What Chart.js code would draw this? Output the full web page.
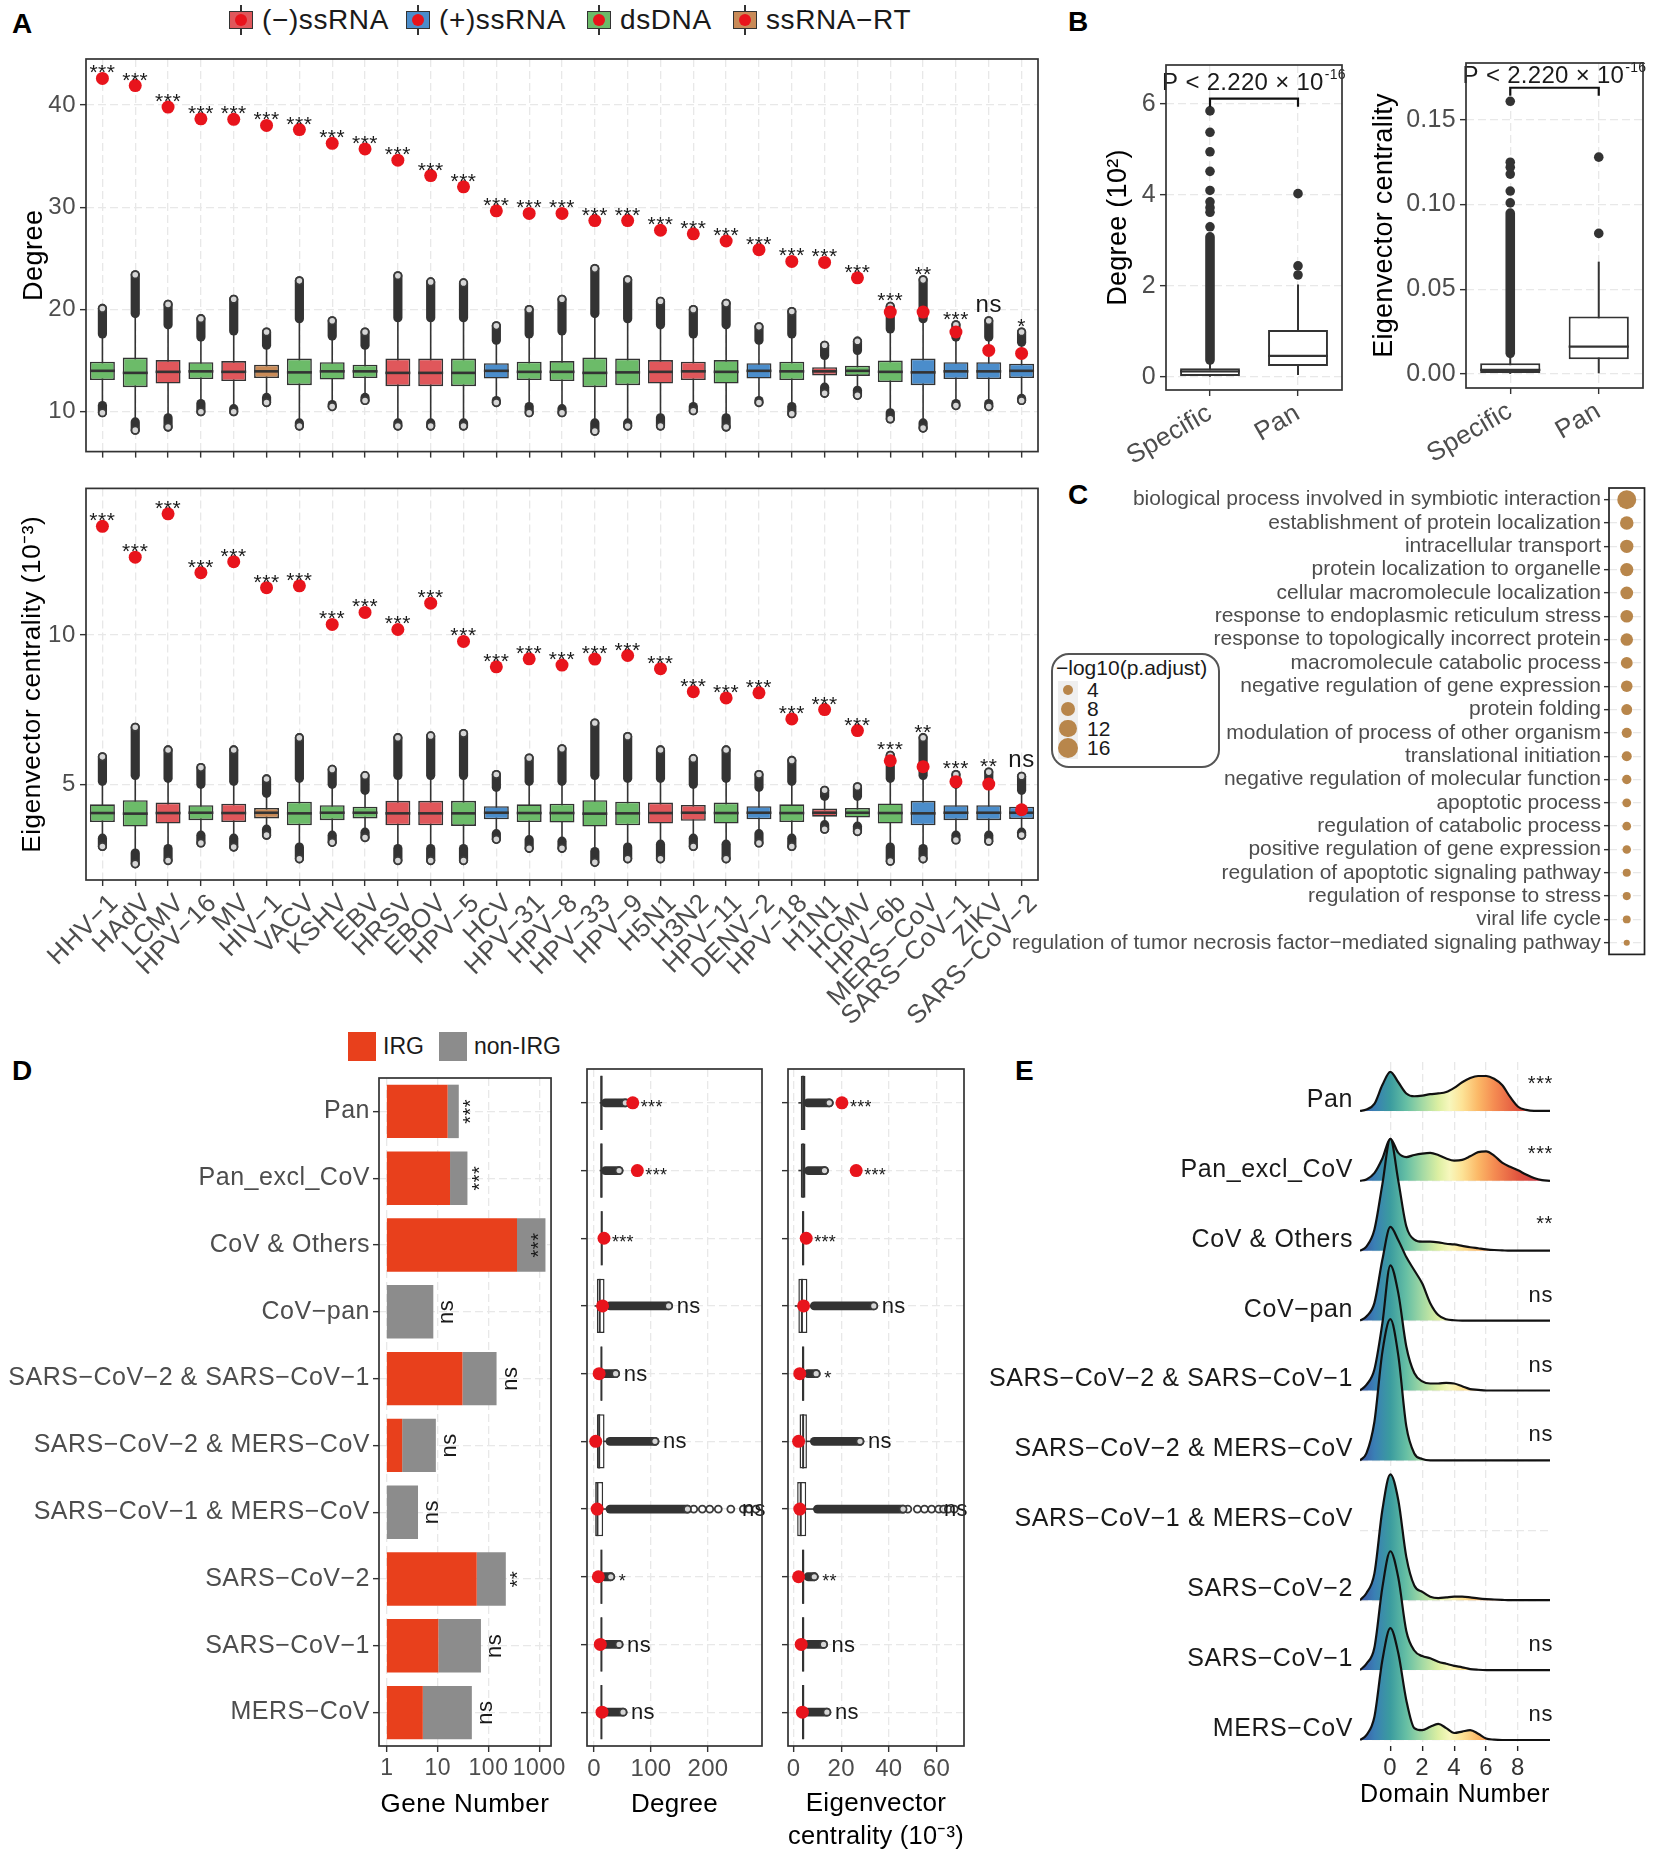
<!doctype html>
<html lang="en">
<head>
<meta charset="utf-8">
<title>Pan-viral interacting genes</title>
<style>
  * { margin: 0; padding: 0; box-sizing: border-box; }
  body { width: 1654px; height: 1853px; position: relative; background: #fff; overflow: hidden;
         font-family: 'Liberation Sans', Arial, sans-serif; color: #1a1a1a; }
  canvas { position: absolute; }
  .tag { position: absolute; font-weight: bold; font-size: 28px; line-height: 1; color: #000; }
  .lg { position: absolute; display: flex; align-items: center; height: 32px; font-size: 28px; letter-spacing: 0.6px; white-space: nowrap; }
  .key { position: relative; width: 26px; height: 30px; margin-right: 8px; }
  .key i { position: absolute; display: block; }
  .key .wh { left: 12px; top: 0; width: 2px; height: 30px; background: #333; }
  .key .bx { left: 1px; top: 6px; width: 24px; height: 18px; border: 1.6px solid #333; }
  .key .dot { left: 7px; top: 9px; width: 12px; height: 12px; border-radius: 50%; background: #e8141c; }
  .sq { width: 28px; height: 29px; margin-right: 7px; }
  #cLegend { position: absolute; left: 1051px; top: 653px; width: 169px; height: 115px;
             border: 2px solid #555; border-radius: 18px; font-size: 21px; }
  #cLegend div { position: absolute; white-space: nowrap; }
</style>
</head>
<body>
<div class="tag" style="left:12px;top:10px">A</div>
<div class="tag" style="left:1068px;top:8px">B</div>
<div class="tag" style="left:1068px;top:481px">C</div>
<div class="tag" style="left:12px;top:1057px">D</div>
<div class="tag" style="left:1015px;top:1057px">E</div>

<div id="legendA"></div>
<div id="legendD"></div>
<div id="cLegend"></div>

<canvas id="a1" width="1050" height="470" style="left:0;top:0"></canvas>
<canvas id="a2" width="1050" height="560" style="left:0;top:470px"></canvas>
<canvas id="b1" width="270" height="440" style="left:1085px;top:30px"></canvas>
<canvas id="b2" width="294" height="440" style="left:1360px;top:30px"></canvas>
<canvas id="c" width="664" height="500" style="left:990px;top:470px"></canvas>
<canvas id="d1" width="570" height="793" style="left:0;top:1060px"></canvas>
<canvas id="d2" width="210" height="793" style="left:565px;top:1060px"></canvas>
<canvas id="d3" width="210" height="793" style="left:775px;top:1060px"></canvas>
<canvas id="e" width="694" height="813" style="left:960px;top:1040px"></canvas>

<script src="https://cdn.jsdelivr.net/npm/chart.js@4/dist/chart.umd.min.js"></script>
<script>
// ---------------- data: panel A ----------------
const viruses = ['HHV-1','HAdV','LCMV','HPV-16','MV','HIV-1','VACV','KSHV','EBV','HRSV','EBOV','HPV-5','HCV','HPV-31','HPV-8',
  'HPV-33','HPV-9','H5N1','H3N2','HPV-11','DENV-2','HPV-18','H1N1','HCMV','HPV-6b','MERS-CoV','SARS-CoV-1','ZIKV','SARS-CoV-2'];
const virusType = ['ds','ds','neg','ds','neg','rt','ds','ds','ds','neg','neg','ds','pos','ds','ds',
  'ds','ds','neg','neg','ds','pos','ds','neg','ds','ds','pos','pos','pos','pos'];
const typeNames = {neg: '(−)ssRNA', pos: '(+)ssRNA', ds: 'dsDNA', rt: 'ssRNA−RT'};

// degree of IRGs (red dots) and of all genes (boxes)
const degIRG = [42.6,41.9,39.8,38.65,38.6,38.0,37.6,36.25,35.7,34.6,33.1,32.0,29.65,29.4,29.4,28.7,28.7,27.75,27.4,26.7,25.85,24.7,24.6,23.1,19.75,19.75,17.8,16.0,15.7];
const degSig = ['***','***','***','***','***','***','***','***','***','***','***','***','***','***','***','***','***','***','***','***','***','***','***','***','***','**','***','ns','*'];
const degQ1  = [13.1,12.4,12.75,13.2,13.0,13.3,12.6,13.15,13.3,12.5,12.5,12.5,13.25,13.1,13.0,12.4,12.6,12.75,13.1,12.75,13.25,13.1,13.55,13.5,12.9,12.6,13.2,13.2,13.3];
const degMed = [14.0,13.8,13.9,13.95,13.9,13.95,13.85,13.95,13.95,13.8,13.8,13.8,14.0,13.9,13.9,13.8,13.85,13.9,13.95,13.9,14.0,13.95,13.95,14.0,13.9,13.85,13.95,13.95,14.0];
const degQ3  = [14.9,15.3,15.05,14.85,14.95,14.6,15.2,14.85,14.6,15.2,15.2,15.2,14.75,14.9,14.95,15.3,15.2,15.05,14.9,15.05,14.75,14.9,14.35,14.5,15.0,15.2,14.85,14.85,14.7];
const degLo  = [10.6,9.0,9.4,10.8,10.3,11.4,8.9,10.7,11.4,8.9,8.9,8.9,11.1,10.5,10.3,8.9,8.9,9.4,10.5,9.4,11.1,10.5,12.4,12.1,9.9,8.9,10.8,10.8,11.3];
const degHi  = [17.6,19.6,18.5,17.3,17.9,16.5,19.1,17.4,16.5,19.2,19.2,19.2,17.0,17.6,17.9,19.6,19.1,18.5,17.6,18.5,17.0,17.6,15.5,16.0,18.1,19.1,17.3,17.3,16.8];
const degMax = [20.1,23.4,20.5,19.1,21.0,17.8,22.8,18.9,17.8,23.3,22.7,22.6,18.4,20.0,21.0,24.0,22.9,20.8,20.0,20.6,18.3,19.8,16.5,16.9,20.3,22.9,18.5,18.9,17.8];
const degMin = [9.9,8.2,8.5,10.0,10.0,10.9,8.6,10.5,11.1,8.6,8.6,8.6,10.9,9.9,9.9,8.1,8.6,8.6,10.1,8.5,10.9,9.8,11.8,11.6,9.3,8.4,10.6,10.5,11.1];

// eigenvector centrality (10^-3)
const eigIRG = [13.63,12.6,14.05,12.08,12.45,11.58,11.64,10.35,10.75,10.18,11.06,9.78,8.93,9.2,8.99,9.19,9.31,8.87,8.1,7.89,8.06,7.19,7.5,6.8,5.79,5.59,5.09,5.01,4.15];
const eigSig = ['***','***','***','***','***','***','***','***','***','***','***','***','***','***','***','***','***','***','***','***','***','***','***','***','***','**','***','**','ns'];
const eigQ1  = [3.74,3.59,3.69,3.80,3.74,3.86,3.63,3.80,3.86,3.63,3.63,3.61,3.83,3.74,3.72,3.59,3.63,3.69,3.78,3.69,3.83,3.74,3.92,3.89,3.69,3.63,3.80,3.80,3.84];
const eigMed = [4.04,4.02,4.04,4.05,4.04,4.05,4.03,4.05,4.05,4.03,4.03,4.03,4.05,4.04,4.04,4.02,4.03,4.04,4.05,4.04,4.05,4.04,4.05,4.05,4.04,4.03,4.05,4.05,4.05];
const eigQ3  = [4.33,4.47,4.39,4.30,4.35,4.21,4.42,4.30,4.25,4.45,4.45,4.45,4.27,4.33,4.35,4.47,4.42,4.39,4.31,4.39,4.27,4.33,4.19,4.21,4.36,4.45,4.30,4.30,4.25];
const eigLo  = [3.2,2.7,2.85,3.3,3.2,3.5,2.9,3.3,3.4,2.85,2.85,2.85,3.35,3.15,3.1,2.75,2.9,3.0,3.2,3.0,3.35,3.2,3.65,3.6,2.9,2.85,3.3,3.3,3.4];
const eigHi  = [5.1,5.3,5.2,5.0,5.1,4.7,5.2,5.0,4.8,5.3,5.3,5.3,4.9,5.1,5.1,5.3,5.2,5.2,5.0,5.2,4.9,5.1,4.6,4.6,5.2,5.3,5.0,5.0,4.8];
const eigMax = [5.92,6.91,6.15,5.56,6.15,5.18,6.56,5.5,5.29,6.56,6.62,6.7,5.33,5.88,6.19,7.05,6.6,6.15,5.86,6.15,5.33,5.8,4.8,4.92,5.97,6.56,5.33,5.41,5.27];
const eigMin = [2.92,2.34,2.45,3.04,2.9,3.3,2.51,3.06,3.22,2.45,2.45,2.45,3.16,2.86,2.86,2.39,2.51,2.51,2.92,2.51,3.04,2.92,3.5,3.42,2.43,2.51,3.14,3.1,3.3];

// ---------------- data: panel B ----------------
const bGroups = ['Specific','Pan'];
const bDegQ1 = [0.02,0.24], bDegMed = [0.12,0.46], bDegQ3 = [0.19,1.03], bDegLo = [0,0.04], bDegHi = [0.37,2.03];
const bDegDense = [3.08,null];
const bDegOut = [[3.3,3.62,3.72,3.85,4.1,4.52,4.95,5.38,5.85],[2.24,2.44,4.03]];
const bEigQ1 = [0.0005,0.0087], bEigMed = [0.0024,0.0161], bEigQ3 = [0.0063,0.0339], bEigLo = [0,0.0004], bEigHi = [0.0122,0.0663];
const bEigDense = [0.095,null];
const bEigOut = [[0.101,0.108,0.118,0.122,0.125,0.161],[0.083,0.128]];

// ---------------- data: panel C ----------------
const goTerms = ['biological process involved in symbiotic interaction','establishment of protein localization',
  'intracellular transport','protein localization to organelle','cellular macromolecule localization',
  'response to endoplasmic reticulum stress','response to topologically incorrect protein','macromolecule catabolic process',
  'negative regulation of gene expression','protein folding','modulation of process of other organism',
  'translational initiation','negative regulation of molecular function','apoptotic process',
  'regulation of catabolic process','positive regulation of gene expression','regulation of apoptotic signaling pathway',
  'regulation of response to stress','viral life cycle','regulation of tumor necrosis factor-mediated signaling pathway'];
const goScore = [14.4,7.3,7.1,7.0,6.5,6.4,6.3,5.6,5.4,4.8,4.1,4.0,3.5,3.1,3.0,2.9,2.6,2.6,2.5,1.5];
const goLegend = [4,8,12,16];

// ---------------- data: panel D ----------------
const dGroups = ['Pan','Pan_excl_CoV','CoV & Others','CoV-pan','SARS-CoV-2 & SARS-CoV-1','SARS-CoV-2 & MERS-CoV',
  'SARS-CoV-1 & MERS-CoV','SARS-CoV-2','SARS-CoV-1','MERS-CoV'];
const geneIRG = [15.7,17.5,364,null,30.7,2.0,null,58.6,10.3,5.1];
const geneAll = [26,38.5,1320,8.2,144,9.2,4.1,219,71,47];
const geneSig = ['***','***','***','ns','ns','ns','ns','**','ns','ns'];

const dDegIRG = [68,76,17.5,15,9,3,5.5,7.6,11,14];
const dDegQ1  = [11,11,12.5,5,12,5,2,12,12,12];
const dDegMed = [13,13,13.5,10,13,9,6,13,13,13];
const dDegQ3  = [15,15,15,18.5,14,18.5,16,14,14,14];
const dDegLo  = [10,10,12,1,11,1,1,11,11,11];
const dDegHi  = [20,20,16,28,18,28,28,18,18,18];
const dDegMax = [55,44,16,131,38,107,164,29.5,44,51];
const dDegOut = [[],[],[],[],[],[],[175,190,203,218,240,262,272,284],[],[],[]];
const dDegSig = ['***','***','***','ns','ns','ns','ns','*','ns','ns'];

const dEigIRG = [20.3,26.3,5.3,4.2,2.6,2.1,2.6,2.1,3.2,3.7];
const dEigQ1  = [3,3,3.5,2,3.5,2.5,1.5,3.5,3.5,3.5];
const dEigMed = [4,4,4,3.5,4,4,3,4,4,4];
const dEigQ3  = [5,5,4.5,5.8,4.5,5.6,5.3,4.5,4.5,4.5];
const dEigLo  = [2,2,3,0.5,3,0.5,0.3,3,3,3];
const dEigHi  = [6,6.3,5,8.7,6,8.7,10,6,6,6];
const dEigMax = [15,13,5,33.7,9.5,27.9,46,8.7,12.6,14];
const dEigOut = [[],[],[],[],[],[],[48,52,55,58,61,63,65,67.5],[],[],[]];
const dEigSig = ['***','***','***','ns','*','ns','ns','**','ns','ns'];

// ---------------- data: panel E (ridge heights, in row units) ----------------
const eGroups = dGroups;
const domainX = [-1.9,-1.5,-1,-0.5,0,0.5,1,1.5,2,2.5,3,3.5,4,4.5,5,5.5,6,6.5,7,7.5,8,8.5,9,9.5,10];
const ridgePan      = [0,0.02,0.1,0.37,0.56,0.41,0.25,0.21,0.22,0.24,0.25,0.27,0.33,0.41,0.47,0.5,0.5,0.46,0.37,0.2,0.06,0.015,0,0,0];
const ridgePanExcl  = [0,0.02,0.11,0.32,0.6,0.4,0.34,0.37,0.39,0.4,0.37,0.32,0.29,0.3,0.35,0.41,0.42,0.36,0.26,0.2,0.15,0.09,0.04,0.01,0];
const ridgeCoVOther = [0,0.06,0.3,0.95,1.6,1.0,0.35,0.16,0.13,0.13,0.12,0.1,0.09,0.07,0.05,0.035,0.02,0.01,0.005,0,0,0,0,0,0];
const ridgeCoVpan   = [0,0.06,0.25,0.87,1.34,1.15,0.91,0.72,0.53,0.25,0.08,0.02,0.005,0,0,0,0,0,0,0,0,0,0,0,0];
const ridgeSC2SC1   = [0,0.08,0.3,0.96,1.79,1.39,0.63,0.25,0.13,0.1,0.1,0.11,0.1,0.06,0.02,0.01,0,0,0,0,0,0,0,0,0];
const ridgeSC2MERS  = [0,0.1,0.55,1.55,2.02,1.5,0.49,0.1,0.02,0,0,0,0,0,0,0,0,0,0,0,0,0,0,0,0];
const ridgeSC1MERS  = null;
const ridgeSC2      = [0,0.1,0.38,1.29,1.8,1.43,0.62,0.21,0.12,0.05,0.03,0.04,0.05,0.05,0.04,0.025,0.015,0.01,0.005,0,0,0,0,0,0];
const ridgeSC1      = [0,0.09,0.32,1.18,1.7,1.32,0.56,0.28,0.2,0.17,0.12,0.09,0.06,0.04,0.015,0.005,0,0,0,0,0,0,0,0,0];
const ridgeMERS     = [0,0.07,0.33,1.14,1.6,1.24,0.57,0.17,0.14,0.19,0.23,0.17,0.1,0.12,0.14,0.09,0.02,0.005,0,0,0,0,0,0,0];
const ridges = [ridgePan,ridgePanExcl,ridgeCoVOther,ridgeCoVpan,ridgeSC2SC1,ridgeSC2MERS,ridgeSC1MERS,ridgeSC2,ridgeSC1,ridgeMERS];
const eSig = ['***','***','**','ns','ns','ns','','','ns','ns'];

// ---------------- styling ----------------
const FONT = "'Liberation Sans', Arial, sans-serif";
const RED = '#e8141c', INK = '#333333', GRID = '#e8e8e8', TICK = '#4d4d4d';
const typeColor = {neg: '#e0575b', pos: '#4b8dcb', ds: '#6cbb69', rt: '#c98b58'};
const dash = s => s.replace(/-/g, '\u2212');

Chart.defaults.font.family = FONT;
Chart.defaults.color = TICK;
Chart.defaults.animation = false;
Chart.defaults.responsive = false;
Chart.defaults.events = [];
Chart.defaults.plugins.legend.display = false;
Chart.defaults.plugins.tooltip.enabled = false;

const fixW = w => s => { s.width = w; };
const fixH = h => s => { s.height = h; };
const setTicks = vals => s => { s.ticks = vals.map(v => ({value: v})); };
const grid = o => Object.assign({color: GRID, lineWidth: 1.3, tickColor: INK, tickLength: 6, tickWidth: 1.4, offset: false}, o || {});
const border = {display: false, dash: [8, 4]};
const title = (text, size, pad) => ({display: true, text, color: '#000', font: {size, lineHeight: 1.25}, padding: pad});
// slightly wider lettering, closer to the original typeface
const spacing = px => ({id: 'spacing', beforeUpdate(chart) { chart.ctx.letterSpacing = px + 'px'; }});

// ---------------- box plot helpers (use the chart scales) ----------------
function capsule(ctx, h, c, p1, p2, r) {
  ctx.beginPath();
  if (Math.abs(p2 - p1) < 0.5) {
    h ? ctx.arc(p1, c, r, 0, Math.PI * 2) : ctx.arc(c, p1, r, 0, Math.PI * 2);
    ctx.fill(); return;
  }
  ctx.lineWidth = 2 * r; ctx.lineCap = 'round';
  if (h) { ctx.moveTo(p1, c); ctx.lineTo(p2, c); } else { ctx.moveTo(c, p1); ctx.lineTo(c, p2); }
  ctx.stroke();
}
function point(ctx, h, c, p, r, ring) {
  ctx.beginPath();
  h ? ctx.arc(p, c, r - (ring ? 0.9 : 0), 0, Math.PI * 2) : ctx.arc(c, p, r - (ring ? 0.9 : 0), 0, Math.PI * 2);
  if (ring) {
    ctx.fillStyle = 'rgba(255,255,255,0.8)'; ctx.fill();
    ctx.lineWidth = 1.8; ctx.strokeStyle = '#3a3a3a'; ctx.stroke();
  } else { ctx.fillStyle = INK; ctx.fill(); }
}
function boxExtras(o) {
  return {
    id: 'boxExtras',
    beforeDatasetsDraw(chart) {
      const ctx = chart.ctx, h = !!o.horizontal;
      const ix = h ? chart.scales.y : chart.scales.x, vs = h ? chart.scales.x : chart.scales.y;
      const P = v => vs.getPixelForValue(v);
      ctx.save();
      o.lo.forEach((lo, i) => {
        const c = ix.getPixelForValue(i);
        ctx.strokeStyle = INK; ctx.lineWidth = o.wLine || 1.6; ctx.lineCap = 'butt';
        ctx.beginPath();
        if (h) { ctx.moveTo(P(lo), c); ctx.lineTo(P(o.hi[i]), c); } else { ctx.moveTo(c, P(lo)); ctx.lineTo(c, P(o.hi[i])); }
        ctx.stroke();
        ctx.strokeStyle = INK; ctx.fillStyle = INK;
        const top = o.max && o.max[i];
        if (top != null && top > o.hi[i]) capsule(ctx, h, c, P(o.hi[i]), P(top), o.r);
        const bot = o.min && o.min[i];
        if (bot != null && bot < lo) capsule(ctx, h, c, P(lo), P(bot), o.r);
        ((o.out && o.out[i]) || []).forEach(v => point(ctx, h, c, P(v), o.r, o.ring));
        if (o.ring) {
          if (top != null && top > o.hi[i]) point(ctx, h, c, P(top), o.r, true);
          if (bot != null && bot < lo) point(ctx, h, c, P(bot), o.r, true);
        }
      });
      ctx.restore();
    },
    afterDatasetDraw(chart, args) {
      if (args.meta.type !== 'bar') return;
      const ctx = chart.ctx, h = !!o.horizontal;
      const vs = h ? chart.scales.x : chart.scales.y;
      ctx.save(); ctx.strokeStyle = INK; ctx.lineWidth = o.medWidth || 2.6;
      args.meta.data.forEach((el, i) => {
        const p = vs.getPixelForValue(o.med[i]);
        ctx.beginPath();
        if (h) { ctx.moveTo(p, el.y - el.height / 2); ctx.lineTo(p, el.y + el.height / 2); }
        else { ctx.moveTo(el.x - el.width / 2, p); ctx.lineTo(el.x + el.width / 2, p); }
        ctx.stroke();
      });
      ctx.restore();
    },
    afterDatasetsDraw(chart) { if (o.labels) { chart.ctx.save(); o.labels(chart, chart.ctx); chart.ctx.restore(); } },
    afterDraw(chart) { drawFrame(chart); }
  };
}
function drawFrame(chart, color) {
  const {ctx, chartArea: a} = chart;
  ctx.save(); ctx.strokeStyle = color || INK; ctx.lineWidth = 1.7;
  ctx.strokeRect(a.left, a.top, a.right - a.left, a.bottom - a.top);
  ctx.restore();
}
const framePlugin = {id: 'frame', afterDraw(chart) { drawFrame(chart, '#222'); }};

// significance labels above the dots of panel A
function sigAbove(sig, dots, max, starSize, nsSize) {
  return (chart, ctx) => {
    const xs = chart.scales.x, ys = chart.scales.y;
    ctx.fillStyle = '#1a1a1a'; ctx.textAlign = 'center'; ctx.textBaseline = 'alphabetic';
    sig.forEach((s, i) => {
      const py = ys.getPixelForValue(Math.max(dots[i], max[i]));
      const star = s !== 'ns';
      ctx.font = (star ? starSize : nsSize) + 'px ' + FONT;
      ctx.fillText(s, xs.getPixelForValue(i), star ? py + 1 : py - 9);
    });
  };
}

// ---------------- legends (HTML) ----------------
const legendA = document.getElementById('legendA');
[['neg', 228], ['pos', 405], ['ds', 586], ['rt', 732]].forEach(([t, left]) => {
  const d = document.createElement('div');
  d.className = 'lg'; d.style.left = left + 'px'; d.style.top = '4px';
  d.innerHTML = '<span class="key"><i class="wh"></i><i class="bx" style="background:' + typeColor[t] +
    '"></i><i class="dot"></i></span><span>' + typeNames[t] + '</span>';
  legendA.appendChild(d);
});
const legendD = document.getElementById('legendD');
[['IRG', '#e8401c', 348], ['non-IRG', '#8c8c8c', 439]].forEach(([name, col, left]) => {
  const d = document.createElement('div');
  d.className = 'lg'; d.style.left = left + 'px'; d.style.top = '1030px';
  d.style.fontSize = '23px'; d.style.letterSpacing = '0';
  d.innerHTML = '<span class="sq" style="background:' + col + '"></span><span>' + name + '</span>';
  legendD.appendChild(d);
});
const cLeg = document.getElementById('cLegend');
const goR = v => 2.5 * Math.sqrt(v);
cLeg.innerHTML = '<div style="left:3px;top:1px">\u2212log10(p.adjust)</div>' +
  '<div style="left:5px;top:26px;width:20px;height:78px;background:#efefef"></div>';
goLegend.forEach((v, k) => {
  const cy = 35 + k * 19.3, r = goR(v);
  cLeg.innerHTML += '<div style="left:' + (15 - r) + 'px;top:' + (cy - r) + 'px;width:' + 2 * r + 'px;height:' + 2 * r +
    'px;border-radius:50%;background:#b8864b"></div><div style="left:34px;top:' + (cy - 12) + 'px;line-height:24px">' + v + '</div>';
});

// ---------------- panel A: degree ----------------
new Chart('a1', {
  type: 'bar',
  data: {
    labels: viruses.map(dash),
    datasets: [
      {type: 'line', data: degIRG, showLine: false, pointRadius: 6.5, pointBackgroundColor: RED, pointBorderWidth: 0},
      {type: 'bar', data: degQ1.map((q, i) => [q, degQ3[i]]), backgroundColor: virusType.map(t => typeColor[t]),
       borderColor: INK, borderWidth: 1.6, borderSkipped: false, barPercentage: 0.76, categoryPercentage: 1}
    ]
  },
  options: {
    layout: {padding: {left: 0, top: 59, right: 12, bottom: 0}},
    scales: {
      x: {offset: true, grid: grid(), border, ticks: {display: false}, afterFit: fixH(13)},
      y: {min: 6.1, max: 44.5, afterBuildTicks: setTicks([10, 20, 30, 40]), grid: grid(), border,
          ticks: {font: {size: 24}, padding: 4}, title: title('Degree', 27, {top: 18, bottom: 0}), afterFit: fixW(86)}
    }
  },
  plugins: [spacing(0.5), boxExtras({lo: degLo, hi: degHi, max: degMax, min: degMin, med: degMed, r: 4.6, ring: true,
                       labels: sigAbove(degSig, degIRG, degMax, 21, 24)})]
});

// ---------------- panel A: eigenvector centrality ----------------
new Chart('a2', {
  type: 'bar',
  data: {
    labels: viruses.map(dash),
    datasets: [
      {type: 'line', data: eigIRG, showLine: false, pointRadius: 6.5, pointBackgroundColor: RED, pointBorderWidth: 0},
      {type: 'bar', data: eigQ1.map((q, i) => [q, eigQ3[i]]), backgroundColor: virusType.map(t => typeColor[t]),
       borderColor: INK, borderWidth: 1.6, borderSkipped: false, barPercentage: 0.76, categoryPercentage: 1}
    ]
  },
  options: {
    layout: {padding: {left: 0, top: 9, right: 12, bottom: 0}},
    scales: {
      x: {offset: true, grid: grid(), border, afterFit: fixH(150),
          ticks: {autoSkip: false, minRotation: 45, maxRotation: 45, font: {size: 26}, padding: 2, labelOffset: 12}},
      y: {min: 1.8, max: 14.9, afterBuildTicks: setTicks([5, 10]), grid: grid(), border,
          ticks: {font: {size: 24}, padding: 4},
          title: title('Eigenvector centrality (10\u207b\u00b3)', 26, {top: 17, bottom: 0}), afterFit: fixW(86)}
    }
  },
  plugins: [spacing(0.6), boxExtras({lo: eigLo, hi: eigHi, max: eigMax, min: eigMin, med: eigMed, r: 4.6, ring: true,
                       labels: sigAbove(eigSig, eigIRG, eigMax, 21, 24)})]
});

// ---------------- panel B ----------------
function pValue(yVal, baseOff) {
  return (chart, ctx) => {
    const xs = chart.scales.x, ys = chart.scales.y, ca = chart.chartArea;
    const x1 = xs.getPixelForValue(0), x2 = xs.getPixelForValue(1), yb = ys.getPixelForValue(yVal);
    ctx.strokeStyle = '#111'; ctx.lineWidth = 2.2; ctx.lineCap = 'butt';
    ctx.beginPath(); ctx.moveTo(x1, yb + 8); ctx.lineTo(x1, yb); ctx.lineTo(x2, yb); ctx.lineTo(x2, yb + 8); ctx.stroke();
    const main = 'P < 2.220 \u00d7 10', sup = '-16';
    ctx.font = '24px ' + FONT; const w1 = ctx.measureText(main).width;
    ctx.font = '14px ' + FONT; const w2 = ctx.measureText(sup).width;
    const x0 = (ca.left + ca.right) / 2 - (w1 + w2 + 1) / 2;
    ctx.fillStyle = '#1a1a1a'; ctx.textAlign = 'left'; ctx.textBaseline = 'alphabetic';
    ctx.font = '24px ' + FONT; ctx.fillText(main, x0, ca.top + baseOff);
    ctx.font = '14px ' + FONT; ctx.fillText(sup, x0 + w1 + 1, ca.top + baseOff - 11);
  };
}
function bChart(id, q1, med, q3, lo, hi, dense, out, y, ml, pr, pt, mb, ticks, fmt, yTitle, titlePad, bracket, baseOff) {
  return new Chart(id, {
    type: 'bar',
    data: {labels: bGroups, datasets: [{data: q1.map((q, i) => [q, q3[i]]), backgroundColor: '#fff', borderColor: INK,
           borderWidth: 2, borderSkipped: false, barPercentage: 0.68, categoryPercentage: 1}]},
    options: {
      layout: {padding: {left: 0, top: pt, right: pr, bottom: 0}},
      scales: {
        x: {offset: true, grid: grid(), border, afterFit: fixH(mb),
            ticks: {autoSkip: false, minRotation: 30, maxRotation: 30, font: {size: 26}, padding: 2}},
        y: {min: y[0], max: y[1], afterBuildTicks: setTicks(ticks), grid: grid(), border,
            ticks: {font: {size: 25}, padding: 4, callback: fmt}, title: title(yTitle, 27, titlePad), afterFit: fixW(ml)}
      }
    },
    plugins: [spacing(0.3), boxExtras({lo, hi, max: dense, min: null, med, out, r: 4.8, ring: false, wLine: 2, medWidth: 2.2,
                         labels: pValue(bracket, baseOff)})]
  });
}
bChart('b1', bDegQ1, bDegMed, bDegQ3, bDegLo, bDegHi, bDegDense, bDegOut, [-0.29, 6.86], 81, 13, 35, 80,
       [0, 2, 4, 6], v => String(v), 'Degree (10\u00b2)', {top: 17, bottom: 0}, 6.12, 25);
bChart('b2', bEigQ1, bEigMed, bEigQ3, bEigLo, bEigHi, bEigDense, bEigOut, [-0.0083, 0.1836], 106, 11, 33, 82,
       [0, 0.05, 0.1, 0.15], v => v.toFixed(2), 'Eigenvector centrality', {top: 8, bottom: 0}, 0.169, 20);

// ---------------- panel C ----------------
new Chart('c', {
  type: 'bubble',
  data: {datasets: [{data: goTerms.map((t, i) => ({x: 1, y: dash(t), r: goR(goScore[i])})),
                     backgroundColor: '#b8864b', borderWidth: 0}]},
  options: {
    layout: {padding: {left: 0, top: 18, right: 4, bottom: 15}},
    scales: {
      x: {type: 'linear', min: 0, max: 2, display: false},
      y: {type: 'category', labels: goTerms.map(dash), offset: true, grid: grid({tickLength: 5}), border,
          ticks: {autoSkip: false, font: {size: 21}, padding: 3}, afterFit: fixW(619)}
    }
  },
  plugins: [framePlugin]
});

// ---------------- panel D ----------------
const dLabels = dGroups.map(dash);
new Chart('d1', {
  type: 'bar',
  data: {
    labels: dLabels,
    datasets: [
      {data: geneIRG.map(v => v == null ? null : [1, v]), backgroundColor: '#e8401c', grouped: false,
       barPercentage: 0.8, categoryPercentage: 1},
      {data: geneAll.map((v, i) => [geneIRG[i] == null ? 1 : geneIRG[i], v]), backgroundColor: '#8c8c8c', grouped: false,
       barPercentage: 0.8, categoryPercentage: 1}
    ]
  },
  options: {
    indexAxis: 'y',
    layout: {padding: {left: 0, top: 9, right: 16, bottom: 0}},
    scales: {
      x: {type: 'logarithmic', min: 0.733, max: 1700, afterBuildTicks: setTicks([1, 10, 100, 1000]), grid: grid(), border,
          ticks: {font: {size: 23}, padding: 3, minRotation: 0, maxRotation: 0, autoSkip: false, callback: v => String(v)},
          title: title('Gene Number', 26, {top: 0, bottom: 32}), afterFit: fixH(107)},
      y: {offset: true, grid: grid(), border, ticks: {autoSkip: false, font: {size: 25}, padding: 3}, afterFit: fixW(379)}
    }
  },
  plugins: [spacing(0.5), {
    id: 'geneSig',
    afterDatasetsDraw(chart) {
      const {ctx, chartArea: a} = chart, xs = chart.scales.x, ys = chart.scales.y;
      ctx.save(); ctx.fillStyle = '#1a1a1a'; ctx.textAlign = 'center'; ctx.textBaseline = 'top';
      geneSig.forEach((s, i) => {
        const x = Math.min(xs.getPixelForValue(geneAll[i]) + 3, a.right - 22);
        ctx.save(); ctx.translate(x, ys.getPixelForValue(i)); ctx.rotate(-Math.PI / 2);
        ctx.font = (s === 'ns' ? 22 : 20) + 'px ' + FONT; ctx.fillText(s, 0, 0); ctx.restore();
      });
      ctx.restore();
    },
    afterDraw(chart) { drawFrame(chart); }
  }]
});

function sigRight(sig, dots, max, out) {
  return (chart, ctx) => {
    const xs = chart.scales.x, ys = chart.scales.y, a = chart.chartArea;
    ctx.fillStyle = '#1a1a1a'; ctx.textAlign = 'left'; ctx.textBaseline = 'middle';
    sig.forEach((s, i) => {
      const far = Math.max(dots[i], max[i], ...(out[i].length ? out[i] : [0]));
      const star = s !== 'ns';
      ctx.font = (star ? 18 : 22) + 'px ' + FONT;
      const x = Math.min(xs.getPixelForValue(far) + 8, a.right - 20);
      ctx.fillText(s, x, ys.getPixelForValue(i) + (star ? 5 : 1));
    });
  };
}
function dBox(id, q1, med, q3, lo, hi, max, out, dots, sig, xr, ticks, ml, pr, xTitle, pb) {
  return new Chart(id, {
    type: 'bar',
    data: {
      labels: dLabels,
      datasets: [
        {type: 'line', indexAxis: 'y', data: dots.map((v, i) => ({x: v, y: dLabels[i]})), showLine: false,
         pointRadius: 6.5, pointBackgroundColor: RED, pointBorderWidth: 0},
        {type: 'bar', indexAxis: 'y', data: q1.map((q, i) => [q, q3[i]]), backgroundColor: '#fff', borderColor: INK,
         borderWidth: 1.5, borderSkipped: false, barPercentage: 0.8, categoryPercentage: 1}
      ]
    },
    options: {
      indexAxis: 'y',
      layout: {padding: {left: 0, top: 9, right: pr, bottom: 0}},
      scales: {
        x: {type: 'linear', min: xr[0], max: xr[1], afterBuildTicks: setTicks(ticks), grid: grid(), border,
            ticks: {font: {size: 24}, padding: 3, minRotation: 0, maxRotation: 0},
            title: title(xTitle, 26, {top: 0, bottom: pb}), afterFit: fixH(107)},
        y: {offset: true, grid: grid(), border, ticks: {display: false}, afterFit: fixW(ml)}
      }
    },
    plugins: [spacing(0.3), boxExtras({horizontal: true, lo, hi, max, min: null, med, out, r: 4.4, ring: true, medWidth: 2,
                         labels: sigRight(sig, dots, max, out)})]
  });
}
dBox('d2', dDegQ1, dDegMed, dDegQ3, dDegLo, dDegHi, dDegMax, dDegOut, dDegIRG, dDegSig, [-12.3, 294.7], [0, 100, 200],
     22, 13, 'Degree', 32);
dBox('d3', dEigQ1, dEigMed, dEigQ3, dEigLo, dEigHi, dEigMax, dEigOut, dEigIRG, dEigSig, [-2.35, 71.6], [0, 20, 40, 60],
     13, 21, ['Eigenvector', 'centrality (10\u207b\u00b3)'], 0);

// ---------------- panel E ----------------
const spectral = [[-1.9, '#3d55a3'], [-1, '#3a7fb5'], [0, '#3b9c9f'], [1, '#66bfa4'], [2, '#a3d9a4'], [3, '#dcefa2'],
  [3.7, '#f7f7bd'], [4.5, '#fde396'], [5.5, '#fbb867'], [6.5, '#f58c52'], [8, '#e2553f'], [10, '#c62f4f']];
function ridgeFill(ctx) {
  const chart = ctx.chart;
  if (!chart.chartArea) return '#66bfa4';
  const xs = chart.scales.x, x0 = xs.getPixelForValue(-1.9), x1 = xs.getPixelForValue(10);
  const g = chart.ctx.createLinearGradient(x0, 0, x1, 0);
  spectral.forEach(([v, c]) => g.addColorStop((v + 1.9) / 11.9, c));
  return g;
}
new Chart('e', {
  type: 'line',
  data: {
    datasets: ridges.map((d, i) => d && {
      data: domainX.map((x, k) => ({x, y: 9 - i + d[k]})),
      fill: {value: 9 - i}, backgroundColor: ridgeFill, borderColor: '#111', borderWidth: 2.2,
      pointRadius: 0, cubicInterpolationMode: 'monotone', order: 9 - i
    }).filter(Boolean)
  },
  options: {
    layout: {padding: {left: 0, top: 22, right: 104, bottom: 0}},
    scales: {
      x: {type: 'linear', min: -1.9, max: 10, afterBuildTicks: setTicks([0, 2, 4, 6, 8]),
          grid: grid({tickLength: 5, tickColor: '#222'}), border,
          ticks: {font: {size: 24}, padding: 3, color: '#333', minRotation: 0, maxRotation: 0},
          title: title('Domain Number', 26, {top: 0, bottom: 42}), afterFit: fixH(107)},
      y: {type: 'linear', min: -0.086, max: 9.7, afterBuildTicks: setTicks(eGroups.map((g, i) => 9 - i)),
          grid: grid({drawTicks: false}), border,
          ticks: {font: {size: 25}, color: '#1a1a1a', padding: 7, labelOffset: -11, callback: v => dash(eGroups[9 - v])},
          afterFit: fixW(400)}
    }
  },
  plugins: [spacing(0.6), {
    id: 'ridgeSig',
    afterDatasetsDraw(chart) {
      const {ctx} = chart, xs = chart.scales.x, ys = chart.scales.y;
      ctx.save(); ctx.fillStyle = '#1a1a1a'; ctx.textAlign = 'right'; ctx.textBaseline = 'alphabetic';
      eSig.forEach((s, i) => {
        if (!s) return;
        const base = ys.getPixelForValue(9 - i), star = s !== 'ns';
        ctx.font = (star ? 20 : 22) + 'px ' + FONT;
        ctx.fillText(s, xs.getPixelForValue(10) + 3, base - (star ? 21 : 19));
      });
      ctx.restore();
    }
  }]
});
</script>
</body>
</html>
